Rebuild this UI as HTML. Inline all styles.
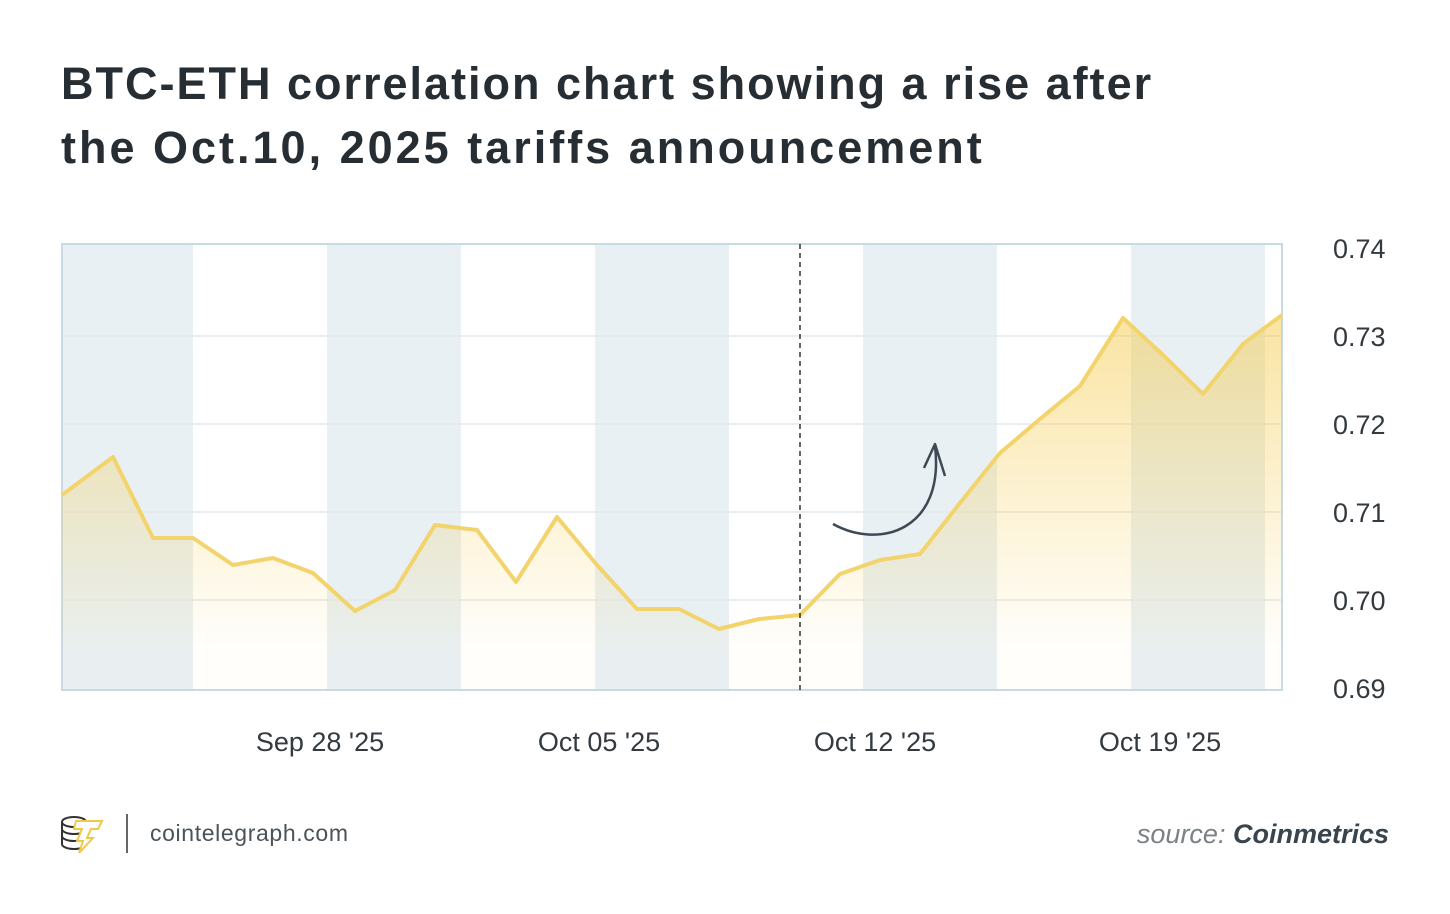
<!DOCTYPE html>
<html><head><style>
html,body{margin:0;padding:0;background:#fff;}
body{width:1450px;height:914px;position:relative;overflow:hidden;font-family:"Liberation Sans",sans-serif;}
.t{position:absolute;left:61px;top:52px;font-size:45px;font-weight:bold;color:#262d33;line-height:64px;letter-spacing:2px;white-space:nowrap;}
</style></head><body>
<div class="t">BTC-ETH correlation chart showing a rise after<br><span style="letter-spacing:3px">the Oct.10, 2025 tariffs announcement</span></div>
<svg width="1450" height="914" style="position:absolute;left:0;top:0">
<defs>
<linearGradient id="g" gradientUnits="userSpaceOnUse" x1="0" y1="310" x2="0" y2="650">
<stop offset="0" stop-color="#f5c842" stop-opacity="0.5"/>
<stop offset="1" stop-color="#f5c842" stop-opacity="0.02"/>
</linearGradient>
</defs>
<g fill="#e9f0f3">
<rect x="62" y="244" width="131" height="446"/>
<rect x="327" y="244" width="134" height="446"/>
<rect x="595" y="244" width="134" height="446"/>
<rect x="863" y="244" width="134" height="446"/>
<rect x="1131" y="244" width="134" height="446"/>
</g>
<g stroke="#e4e8eb" stroke-width="1.5">
<line x1="62" y1="336" x2="1282" y2="336"/>
<line x1="62" y1="424" x2="1282" y2="424"/>
<line x1="62" y1="512" x2="1282" y2="512"/>
<line x1="62" y1="600" x2="1282" y2="600"/>
</g>
<rect x="62" y="244" width="1220" height="446" fill="none" stroke="#c8dbe3" stroke-width="2"/>
<polygon fill="url(#g)" points="62,495 113,457 153,538 193,538 233,565 273,558 313,573 355,611 395,590 435,525 477,530 516,582 557,517 597,565 637,609 679,609 719,629 759,619 800,615 840,574 880,560 920,554 960,503 1000,453 1040,419 1080,386 1123,318 1163,355 1203,394 1243,344 1282,315 1282,690 62,690"/>
<polyline fill="none" stroke="#f3d36c" stroke-width="4" stroke-linejoin="round" points="62,495 113,457 153,538 193,538 233,565 273,558 313,573 355,611 395,590 435,525 477,530 516,582 557,517 597,565 637,609 679,609 719,629 759,619 800,615 840,574 880,560 920,554 960,503 1000,453 1040,419 1080,386 1123,318 1163,355 1203,394 1243,344 1282,315"/>
<line x1="800" y1="244" x2="800" y2="690" stroke="#333" stroke-width="1.5" stroke-dasharray="5,4"/>
<path d="M833,524 C880,550 945,530 935,446" fill="none" stroke="#3d4a55" stroke-width="2.5"/>
<path d="M924,468 L935,444 L945,476" fill="none" stroke="#3d4a55" stroke-width="2.5" stroke-linejoin="round"/>
<g font-size="27" fill="#333a40" font-family="Liberation Sans,sans-serif">
<text x="1333" y="258">0.74</text>
<text x="1333" y="346">0.73</text>
<text x="1333" y="434">0.72</text>
<text x="1333" y="522">0.71</text>
<text x="1333" y="610">0.70</text>
<text x="1333" y="698">0.69</text>
<text x="320" y="751" text-anchor="middle">Sep 28 '25</text>
<text x="599" y="751" text-anchor="middle">Oct 05 '25</text>
<text x="875" y="751" text-anchor="middle">Oct 12 '25</text>
<text x="1160" y="751" text-anchor="middle">Oct 19 '25</text>
</g>
<g fill="none" stroke="#333" stroke-width="2">
<ellipse cx="74" cy="822" rx="12" ry="5"/>
<path d="M62,822 v22 a12,5 0 0 0 24,0 v-22 M62,829 a12,5 0 0 0 24,0 M62,836 a12,5 0 0 0 24,0"/>
</g>
<path d="M76,821 h26 l-4,8 h-7 l-4,9 h6 l-14,15 l4,-12 h-6 l5,-12 h-8 z" fill="#fff" stroke="#f0c94a" stroke-width="2"/>
<line x1="127" y1="814" x2="127" y2="853" stroke="#666" stroke-width="2"/>
<text x="150" y="841" font-size="23" fill="#4a5359" font-family="Liberation Sans,sans-serif" textLength="198">cointelegraph.com</text>
<text x="1389" y="843" font-size="27" text-anchor="end" font-style="italic" fill="#7a8288" font-family="Liberation Sans,sans-serif">source: <tspan font-weight="bold" fill="#3a444c">Coinmetrics</tspan></text>
</svg>
</body></html>
